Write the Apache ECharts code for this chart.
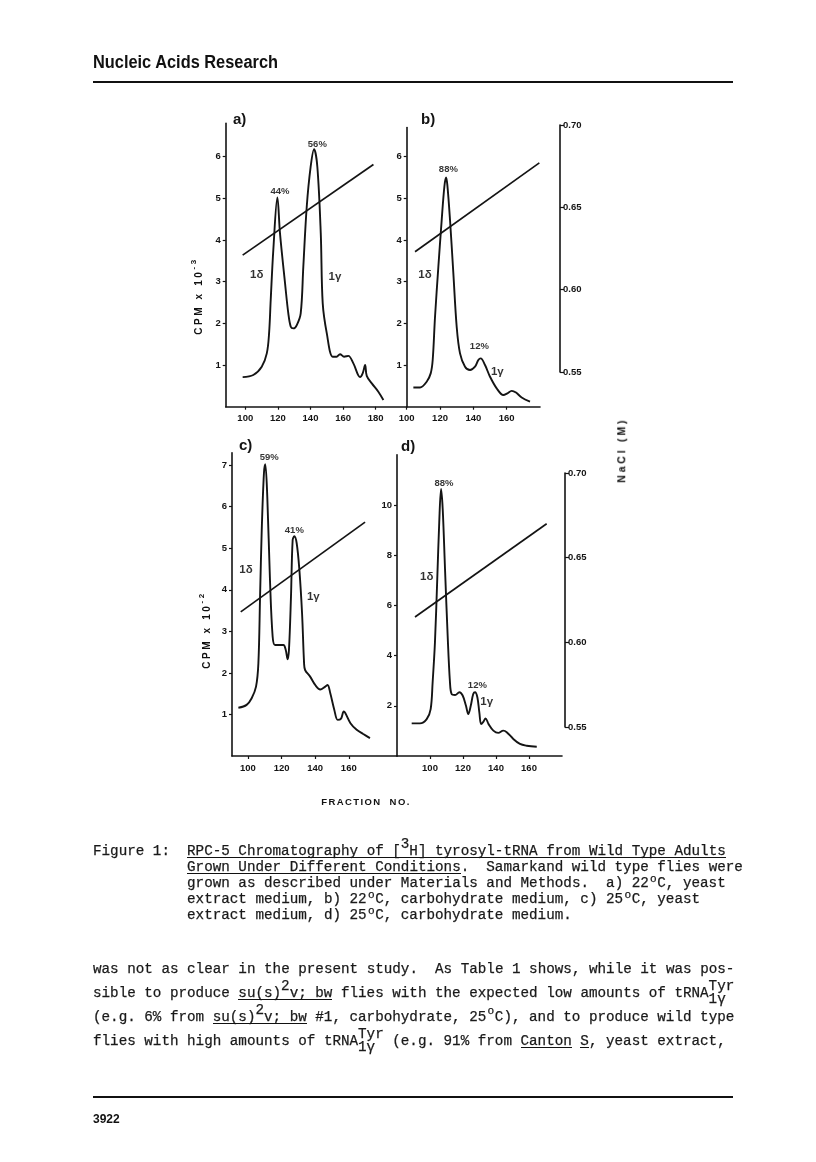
<!DOCTYPE html>
<html><head><meta charset="utf-8"><title>Figure 1</title>
<script src="https://cdn.jsdelivr.net/npm/echarts@6.0.0/dist/echarts.min.js"></script>
<style>
html,body{margin:0;padding:0;background:#fff}
#page{position:relative;width:816px;height:1162px;overflow:hidden;background:#fff}
#chart{position:absolute;left:0;top:0;width:816px;height:1162px}
.tw{position:absolute;white-space:pre;font-family:"Liberation Mono",monospace;color:#1a1a1a;-webkit-text-stroke:0.25px #1a1a1a}
.rule{position:absolute;background:#111}
.ttl{position:absolute;white-space:pre;font-family:"Liberation Sans",sans-serif;font-weight:bold;color:#111;line-height:1}
.ttl sup{font-size:80%;vertical-align:top;position:relative;top:-4px}
</style></head><body><div id="page"><div id="chart"></div></div>
<script>
// ---------------- DATA ----------------
// panel a) 22C yeast extract
const fracA=[98.4,104.9,110.1,113.2,114.6,115.6,117.2,119.7,121.3,124.4,126.4,127.9,129.5,131.6,134,135.6,137.7,140.1,142.2,144.2,146.3,147.5,150,153.6,156,158.1,160.6,163.2,166.3,170.4,172,173.5,174.5,177.6,181.6,184.7];
const cpmA=[0.71,0.76,0.96,1.28,1.76,2.56,3.76,5.02,4.16,2.96,2.24,1.92,1.88,1.96,2.24,3.36,4.8,5.76,6.18,5.76,4.16,2.48,1.76,1.2,1.2,1.26,1.2,1.22,1.04,0.71,0.8,1.0,0.74,0.56,0.36,0.16];
// panel b) 22C carbohydrate
const fracB=[104,108,112,114.4,115.6,117,119,121,122.6,123.6,124.4,126,128,130,132,135,138,141,143,144.4,147,150,154,158,160.4,163,165.6,169,174];
const cpmB=[0.46,0.46,0.6,0.8,1.12,2.16,3.36,4.48,5.28,5.5,5.32,4.48,3.2,1.92,1.28,0.96,0.88,0.96,1.12,1.16,1.0,0.72,0.44,0.28,0.32,0.38,0.34,0.22,0.12];
// panel c) 25C yeast extract
const fracC=[94.3,99.2,102.2,104.8,106.2,107.2,108.2,109.5,110.3,111.5,113.1,114.7,116.1,118.1,121.1,122.5,123.6,124.4,125.6,126.6,127.6,129,130.6,132.2,133.4,134,137,140,143,146,147.4,149,151.4,153.4,155.4,157,158,161,164.7,168.6,172.6];
const cpmC=[1.16,1.23,1.39,1.67,2.23,3.83,5.44,6.8,7.02,6.24,4.24,2.87,2.67,2.67,2.67,2.55,2.33,2.55,3.83,5.2,5.29,5.12,4.48,3.43,2.23,2.07,1.91,1.71,1.6,1.67,1.71,1.51,1.11,0.87,0.9,1.07,1.03,0.79,0.63,0.53,0.43];
// panel d) 25C carbohydrate
const fracD=[88.9,93.9,98,100.4,101.6,103,104.4,105.6,106.7,107.7,109.1,110.7,112.1,113.1,115.2,117.8,119.8,121.8,123.2,124.7,126.2,127.3,128.7,129.9,131,132.3,133.7,135.5,138.4,141.4,144.4,146.5,150.5,154.5,158.6,164.7];
const cpmD=[1.3,1.3,1.47,1.87,2.94,4.53,7.05,9.31,10.64,9.84,7.45,4.79,2.94,2.47,2.43,2.54,2.41,2.0,1.67,2.0,2.47,2.54,2.34,1.74,1.27,1.36,1.5,1.27,1.01,0.92,1.01,0.95,0.68,0.48,0.41,0.37];
// NaCl gradient (M) end points
const gradFracA=[98.4,178.6], gradNaClA=[0.621,0.676];
const gradFracB=[105,179.6],  gradNaClB=[0.623,0.677];
const gradFracC=[95.7,169.7], gradNaClC=[0.618,0.671];
const gradFracD=[90.9,170.7], gradNaClD=[0.615,0.670];
// tick values
const xTicksA=[100,120,140,160,180], xTicksB=[100,120,140,160], xTicksC=[100,120,140,160], xTicksD=[100,120,140,160];
const yTicksA=[1,2,3,4,5,6], yTicksB=[1,2,3,4,5,6], yTicksC=[1,2,3,4,5,6,7], yTicksD=[2,4,6,8,10];
const naclTicks=[0.55,0.60,0.65,0.70];
// peak annotations [fraction, cpm, text]
const notesA=[[121.3,5.18,'44%'],[144.2,6.3,'56%'],[107,3.16,'1δ'],[155,3.12,'1γ']];
const notesB=[[125,5.7,'88%'],[143.6,1.46,'12%'],[111,3.16,'1δ'],[154.4,0.84,'1γ']];
const notesC=[[112.7,7.19,'59%'],[127.6,5.44,'41%'],[98.8,4.48,'1δ'],[138.9,3.83,'1γ']];
const notesD=[[108.5,10.88,'88%'],[128.7,2.83,'12%'],[98,7.12,'1δ'],[134.4,2.14,'1γ']];
const panelNames=['a)','b)','c)','d)'];

// ---------------- LAYOUT ----------------
const INK='#141414';
const panels=[
 {left:225.7,right:406.7,zeroY:406.7,unit:41.66,xMin:88,  xMax:199,  yMax:6.8,nacl:0,frac:fracA,cpm:cpmA,gf:gradFracA,gn:gradNaClA,xt:xTicksA,yt:yTicksA,notes:notesA,lab:[233,120]},
 {left:406.7,right:540,  zeroY:406.7,unit:41.66,xMin:100, xMax:180,  yMax:6.7,nacl:0,frac:fracB,cpm:cpmB,gf:gradFracB,gn:gradNaClB,xt:xTicksB,yt:yTicksB,notes:notesB,lab:[421,120]},
 {left:232,  right:397,  zeroY:756,  unit:41.55,xMin:90.5,xMax:188.7,yMax:7.3,nacl:1,frac:fracC,cpm:cpmC,gf:gradFracC,gn:gradNaClC,xt:xTicksC,yt:yTicksC,notes:notesC,lab:[239,446]},
 {left:397,  right:562,  zeroY:756,  unit:25.1, xMin:80,  xMax:180,  yMax:12, nacl:1,frac:fracD,cpm:cpmD,gf:gradFracD,gn:gradNaClD,xt:xTicksD,yt:yTicksD,notes:notesD,lab:[401,447]}
];
const naclAxes=[{x:560,top:125,bottom:372},{x:565,top:473,bottom:727}];
const NMIN=0.55,NMAX=0.70;

const tickFont={fontFamily:'Liberation Sans',fontWeight:'bold',fontSize:9.5,color:INK};
const axLine={show:true,onZero:false,lineStyle:{color:INK,width:1.6}};
const pairs=(xs,ys)=>xs.map((x,i)=>[x,ys[i]]);

const grid=[],xAxis=[],yAxis=[],series=[],graphic=[];
panels.forEach((p,i)=>{
  const top=p.zeroY-p.yMax*p.unit;
  grid.push({left:p.left,top:top,width:p.right-p.left,height:p.zeroY-top});
  xAxis.push({type:'value',gridIndex:i,min:p.xMin,max:p.xMax,axisLine:axLine,
    axisTick:{show:true,customValues:p.xt,length:3,lineStyle:{color:INK,width:1.2}},
    axisLabel:Object.assign({customValues:p.xt,margin:7},tickFont),splitLine:{show:false}});
  yAxis.push({type:'value',gridIndex:i,min:0,max:p.yMax,axisLine:axLine,
    axisTick:{show:true,customValues:p.yt,length:3,lineStyle:{color:INK,width:1.2}},
    axisLabel:Object.assign({customValues:p.yt,margin:5},tickFont),splitLine:{show:false}});
});
// hidden NaCl scales aligned with the visible NaCl axis
panels.forEach((p,i)=>{
  const a=naclAxes[p.nacl];
  const n=Y=>NMIN+(a.bottom-Y)/(a.bottom-a.top)*(NMAX-NMIN);
  const top=p.zeroY-p.yMax*p.unit;
  yAxis.push({type:'value',gridIndex:i,show:false,min:n(p.zeroY),max:n(top)});
});
// visible NaCl axes
naclAxes.forEach((a,k)=>{
  const gi=grid.length;
  grid.push({left:a.x-1,top:a.top,width:1,height:a.bottom-a.top});
  xAxis.push({type:'value',gridIndex:gi,show:false});
  yAxis.push({type:'value',gridIndex:gi,position:'right',min:NMIN,max:NMAX,axisLine:axLine,
    axisTick:{show:true,customValues:naclTicks,length:4,lineStyle:{color:INK,width:1.2}},
    axisLabel:Object.assign({customValues:naclTicks,margin:3,formatter:v=>v.toFixed(2)},tickFont),
    splitLine:{show:false}});
});
panels.forEach((p,i)=>{
  series.push({type:'line',xAxisIndex:i,yAxisIndex:i,data:pairs(p.frac,p.cpm),symbol:'none',smooth:0.35,
    lineStyle:{color:INK,width:1.9},silent:true,z:3});
  series.push({type:'line',xAxisIndex:i,yAxisIndex:4+i,data:pairs(p.gf,p.gn),symbol:'none',
    lineStyle:{color:INK,width:1.7},silent:true,z:3});
  series.push({type:'scatter',xAxisIndex:i,yAxisIndex:i,symbolSize:1,itemStyle:{color:'rgba(0,0,0,0)'},silent:true,z:4,
    data:p.notes.map(n=>{const pct=n[2].indexOf('%')>=0;
      return {value:[n[0],n[1]],name:n[2],
        label:{show:true,position:'inside',formatter:'{b}',color:'#000',fontFamily:'Liberation Sans',
               fontWeight:'bold',fontSize:pct?9.5:11.5}};}),
    label:{show:true,position:'inside',formatter:'{b}',color:'#000',fontFamily:'Liberation Sans',fontWeight:'bold'}});
  graphic.push({type:'text',x:p.lab[0],y:p.lab[1],silent:true,
    style:{text:panelNames[i],fill:INK,font:'bold 15px "Liberation Sans"',verticalAlign:'middle',align:'left'}});
});

const chart=echarts.init(document.getElementById('chart'),null,{renderer:'canvas'});
chart.setOption({animation:false,backgroundColor:'#fff',grid,xAxis,yAxis,series,graphic});

// ---------------- PAGE TEXT ----------------
const page=document.getElementById('page');
function rule(x,y,w,h){const e=document.createElement('div');e.className='rule';
  Object.assign(e.style,{left:x+'px',top:y+'px',width:w+'px',height:h+'px'});page.appendChild(e);}
function ttl(html,cx,cy,size,ls,rot){const e=document.createElement('div');e.className='ttl';
  e.innerHTML=html;e.style.fontSize=size+'px';e.style.letterSpacing=ls+'px';page.appendChild(e);
  const r=e.getBoundingClientRect();
  e.style.left=(cx-r.width/2)+'px';e.style.top=(cy-r.height/2)+'px';
  if(rot)e.style.transform='rotate('+rot+'deg)';}
ttl('CPM x 10<sup>-3</sup>',199,296,10,2.6,-90);
ttl('CPM x 10<sup>-2</sup>',207,630,10,2.6,-90);
ttl('NaCl (M)',621,450,10.5,2.8,-90);
ttl('FRACTION  NO.',366,802,9.5,1.4,0);

// header
(function(){const e=document.createElement('div');e.className='ttl';e.textContent='Nucleic Acids Research';
  e.style.fontSize='18px';e.style.fontWeight='bold';e.style.left='93px';e.style.top='53px';
  e.style.transformOrigin='0 0';page.appendChild(e);
  const w=e.getBoundingClientRect().width;e.style.transform='scaleX('+(185/w)+')';})();
rule(93,81,640,2);
rule(93,1096,640,2);
(function(){const e=document.createElement('div');e.className='ttl';e.textContent='3922';
  e.style.fontSize='12px';e.style.left='93px';e.style.top='1113px';e.style.fontWeight='bold';page.appendChild(e);})();

// typewriter lines
const CW=8.55,FS=CW/0.6,X0=93;
function span(txt,x,base,scale){const e=document.createElement('div');e.className='tw';
  const fs=FS*(scale||1);
  e.style.left=x+'px';e.style.top=(base-fs*0.766)+'px';e.style.fontSize=fs+'px';e.style.lineHeight=fs+'px';
  e.textContent=txt;page.appendChild(e);}
function tw(base,segs){let col=0;
  segs.forEach(s=>{
    if(typeof s==='string')s={t:s};
    if(s.stack){span(s.stack[0],X0+col*CW,base-7);span(s.stack[1],X0+col*CW,base+6);
      col+=Math.max(s.stack[0].length,s.stack[1].length);return;}
    span(s.t,X0+col*CW+(s.sc?CW*0.15:0),base+(s.dy||0),s.sc);
    if(s.u)rule(X0+col*CW,base+2.5,s.t.length*CW,1);
    col+=s.t.length;});}
const IND='           ';
const deg=(dy)=>({t:'o',dy:dy,sc:0.78});
tw(854.5,['Figure 1:  ',{t:'RPC-5 Chromatography of [',u:1},{t:'3',u:1,dy:-7},{t:'H] tyrosyl-tRNA from Wild Type Adults',u:1}]);
tw(870.5,[IND,{t:'Grown Under Different Conditions',u:1},'.  Samarkand wild type flies were']);
tw(886.5,[IND+'grown as described under Materials and Methods.  a) 22',deg(-4),'C, yeast']);
tw(902.5,[IND+'extract medium, b) 22',deg(-4),'C, carbohydrate medium, c) 25',deg(-4),'C, yeast']);
tw(918.5,[IND+'extract medium, d) 25',deg(-4),'C, carbohydrate medium.']);
tw(972.5,['was not as clear in the present study.  As Table 1 shows, while it was pos-']);
tw(996.5,['sible to produce ',{t:'su(s)',u:1},{t:'2',u:1,dy:-7},{t:'v; bw',u:1},' flies with the expected low amounts of tRNA',{stack:['Tyr','1γ']}]);
tw(1020.5,['(e.g. 6% from ',{t:'su(s)',u:1},{t:'2',u:1,dy:-7},{t:'v; bw',u:1},' #1, carbohydrate, 25',deg(-6),'C), and to produce wild type']);
tw(1044.5,['flies with high amounts of tRNA',{stack:['Tyr','1γ']},' (e.g. 91% from ',{t:'Canton',u:1},' ',{t:'S',u:1},', yeast extract,']);
</script></body></html>
